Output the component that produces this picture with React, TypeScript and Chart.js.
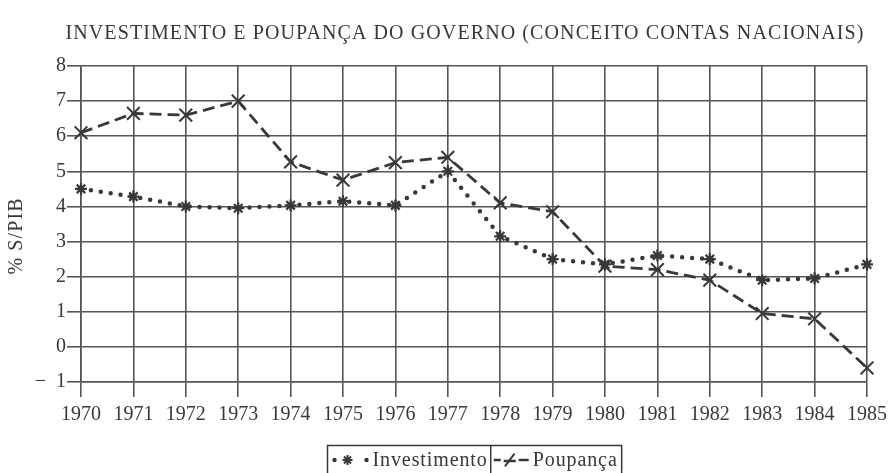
import React, { useEffect, useRef } from "react";
import { Chart, registerables } from "chart.js";
Chart.register(...registerables);

const years = ["1970", "1971", "1972", "1973", "1974", "1975", "1976", "1977", "1978", "1979", "1980", "1981", "1982", "1983", "1984", "1985"];
const investimento = [4.5, 4.28, 4.0, 3.95, 4.03, 4.15, 4.03, 5.0, 3.15, 2.5, 2.35, 2.6, 2.5, 1.9, 1.95, 2.35];
const poupanca = [6.1, 6.65, 6.6, 7.0, 5.27, 4.75, 5.25, 5.4, 4.1, 3.85, 2.3, 2.2, 1.9, 0.95, 0.8, -0.6];
const yMin = -1;
const yMax = 8;
const titleText = "INVESTIMENTO E POUPANÇA DO GOVERNO (CONCEITO CONTAS NACIONAIS)";
const yTitle = "% S/PIB";
const seriesNames = ["Investimento", "Poupança"];

const INK = "#383838";
const GRID = "#555555";
const FONT = '"Liberation Serif", "DejaVu Serif", serif';

function drawStar(ctx: CanvasRenderingContext2D, x: number, y: number, r: number) {
  ctx.beginPath();
  for (let i = 0; i < 4; i++) {
    const a = (Math.PI / 4) * i;
    ctx.moveTo(x - r * Math.cos(a), y - r * Math.sin(a));
    ctx.lineTo(x + r * Math.cos(a), y + r * Math.sin(a));
  }
  ctx.stroke();
}

function drawSlash(ctx: CanvasRenderingContext2D, x: number, y: number, r: number) {
  ctx.beginPath();
  ctx.moveTo(x - r * 0.6, y + r * 0.8);
  ctx.lineTo(x + r * 0.6, y - r * 0.8);
  ctx.stroke();
}

const textPlugin = {
  id: "textPlugin",
  afterDraw(chart: any) {
    const ctx: CanvasRenderingContext2D = chart.ctx;
    const area = chart.chartArea;
    ctx.save();
    (ctx as any).letterSpacing = "1.1px";
    ctx.fillStyle = INK;
    ctx.strokeStyle = INK;
    ctx.textBaseline = "middle";

    // title
    ctx.font = "20px " + FONT;
    ctx.textAlign = "center";
    ctx.fillText(titleText, 465, 34);

    // y-axis title
    ctx.save();
    ctx.translate(17, 236);
    ctx.rotate(-Math.PI / 2);
    ctx.fillText(yTitle, 0, 0);
    ctx.restore();

    // legend
    ctx.textAlign = "left";
    (ctx as any).letterSpacing = "0.9px";
    const w1 = ctx.measureText(seriesNames[0]).width;
    const w2 = ctx.measureText(seriesNames[1]).width;
    const t1 = 45;
    const t2 = 42;
    const seg1 = t1 + w1 + 3;
    const seg2 = t2 + w2 + 4;
    const total = seg1 + seg2;
    const cx = (area.left + area.right) / 2;
    const left = Math.round(cx - total / 2) + 0.5;
    const top = 445.5;
    const h = 32;
    const mid = 460;
    ctx.lineWidth = 1.5;
    ctx.strokeRect(left, top, total, h);
    ctx.beginPath();
    ctx.moveTo(left + seg1, top);
    ctx.lineTo(left + seg1, top + h);
    ctx.stroke();

    // sample 1: dotted with star
    let sx = left;
    ctx.beginPath();
    for (const dx of [7, 39]) {
      ctx.moveTo(sx + dx + 2.2, mid);
      ctx.arc(sx + dx, mid, 2.2, 0, Math.PI * 2);
    }
    ctx.fill();
    ctx.lineWidth = 2;
    drawStar(ctx, sx + 20, mid, 5);
    ctx.fillText(seriesNames[0], sx + t1, mid + 1);

    // sample 2: dashed with slash
    sx = left + seg1;
    ctx.lineWidth = 2.5;
    ctx.beginPath();
    ctx.moveTo(sx + 3, mid);
    ctx.lineTo(sx + 10, mid);
    ctx.moveTo(sx + 28, mid);
    ctx.lineTo(sx + 38, mid);
    ctx.moveTo(sx + 13, mid + 1);
    ctx.lineTo(sx + 25, mid + 1);
    ctx.stroke();
    ctx.lineWidth = 2;
    drawSlash(ctx, sx + 19, mid, 8);
    ctx.fillText(seriesNames[1], sx + t2, mid + 1);
    ctx.restore();
  },
};

export default function App() {
  const ref = useRef<HTMLCanvasElement | null>(null);
  useEffect(() => {
    document.body.style.margin = "0";
    const canvas = ref.current;
    if (!canvas) return;
    const chart = new Chart(canvas, {
      type: "line",
      data: {
        labels: years,
        datasets: [
          {
            label: seriesNames[0],
            data: investimento,
            borderColor: INK,
            backgroundColor: INK,
            borderWidth: 4.5,
            borderDash: [0, 10],
            borderCapStyle: "round",
            pointStyle: "star",
            pointRadius: 6,
            pointBorderWidth: 2.2,
            pointBorderColor: INK,
            fill: false,
            tension: 0,
          },
          {
            label: seriesNames[1],
            data: poupanca,
            borderColor: INK,
            backgroundColor: INK,
            borderWidth: 2.8,
            borderDash: [12, 6],
            pointStyle: "crossRot",
            pointRadius: 9,
            pointBorderWidth: 2,
            pointBorderColor: INK,
            fill: false,
            tension: 0,
          },
        ],
      },
      options: {
        responsive: false,
        animation: false,
        layout: { padding: { left: 0, right: 22, top: 66, bottom: 51 } },
        plugins: {
          legend: { display: false },
          tooltip: { enabled: false },
          title: { display: false },
        },
        scales: {
          x: {
            type: "category",
            offset: false,
            grid: { color: GRID, lineWidth: 1.6, tickLength: 15, drawTicks: true, tickColor: GRID },
            border: { color: GRID, width: 1.6 },
            ticks: {
              color: INK,
              font: { family: FONT, size: 20 },
              padding: 6,
              maxRotation: 0,
              autoSkip: false,
            },
            afterFit(scale: any) {
              scale.height = 40;
            },
          },
          y: {
            min: yMin,
            max: yMax,
            grid: { color: GRID, lineWidth: 1.6, tickLength: 14, tickColor: GRID },
            border: { color: GRID, width: 1.6 },
            ticks: {
              stepSize: 1,
              color: INK,
              font: { family: FONT, size: 20 },
              padding: 1,
              callback: (v: any) => (Number(v) < 0 ? "−  " + Math.abs(Number(v)) : String(v)),
            },
            afterFit(scale: any) {
              scale.width = 81;
            },
          },
        },
      },
      plugins: [textPlugin],
    });
    return () => chart.destroy();
  }, []);
  return (
    <div style={{ width: 893, height: 473, background: "#fff" }}>
      <canvas ref={ref} width={893} height={473} />
    </div>
  );
}
